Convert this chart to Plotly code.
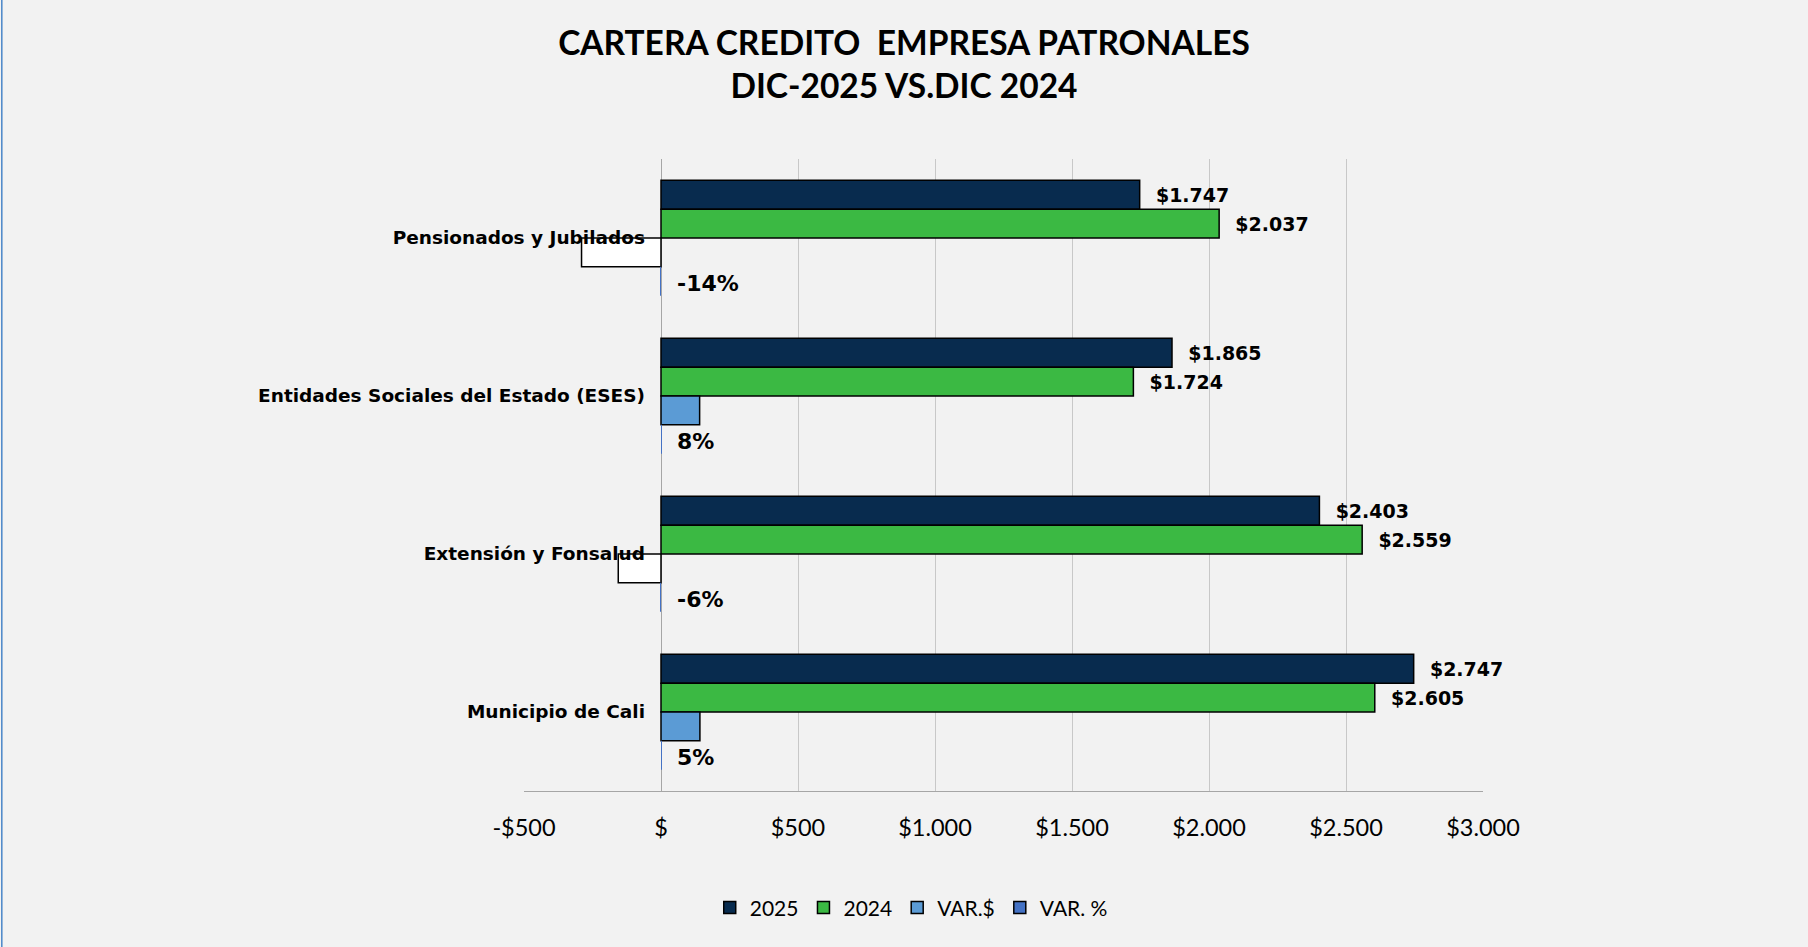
import plotly.graph_objects as go

categories = ["Pensionados y Jubilados", "Entidades Sociales del Estado (ESES)",
              "Extensión y Fonsalud", "Municipio de Cali"]
v2025 = [1747, 1865, 2403, 2747]
v2024 = [2037, 1724, 2559, 2605]
var_abs = [-290, 141, -156, 142]
var_pct = [-0.14, 0.08, -0.06, 0.05]
tick_vals = [-500, 0, 500, 1000, 1500, 2000, 2500, 3000]
tick_text = ["-$500", "$", "$500", "$1.000", "$1.500", "$2.000", "$2.500", "$3.000"]


def money(v):
    return "\u00a0\u00a0$" + f"{v:,.0f}".replace(",", ".")


BOLD = "DejaVu Sans"
LBL = "Lato"
fig = go.Figure()
outline = dict(color="black", width=1.5)
lblfont = dict(family=BOLD, size=19, color="black", weight="bold")
fig.add_trace(go.Bar(name="2025", y=categories, x=v2025, orientation="h", offsetgroup="a",
                     marker=dict(color="#082B4E", line=outline),
                     text=[money(v) for v in v2025], textposition="outside",
                     textfont=lblfont, cliponaxis=False))
fig.add_trace(go.Bar(name="2024", y=categories, x=v2024, orientation="h", offsetgroup="b",
                     marker=dict(color="#3BB943", line=outline),
                     text=[money(v) for v in v2024], textposition="outside",
                     textfont=lblfont, cliponaxis=False))
fig.add_trace(go.Bar(name="VAR.$", y=categories, x=var_abs, orientation="h", offsetgroup="c",
                     marker=dict(color=["white" if v < 0 else "#5B9BD5" for v in var_abs],
                                 line=outline), showlegend=False))
# legend swatch for VAR.$ (shares the same bar slot)
fig.add_trace(go.Bar(name="VAR.$", y=[categories[0]], x=[None], orientation="h", offsetgroup="c",
                     marker=dict(color="#5B9BD5", line=outline), showlegend=True,
                     hoverinfo="skip"))
fig.add_trace(go.Bar(name="VAR. %", y=categories, x=var_pct, orientation="h", offsetgroup="d",
                     marker=dict(color="#4472C4", line=dict(width=0)), showlegend=False))
fig.add_trace(go.Bar(name="VAR. %", y=[categories[0]], x=[None], orientation="h", offsetgroup="d",
                     marker=dict(color="#4472C4", line=outline), showlegend=True,
                     hoverinfo="skip"))

for c, p in zip(categories, var_pct):
    fig.add_annotation(x=0, y=c, xref="x", yref="y", text=f"{round(p*100):.0f}%",
                       showarrow=False, xanchor="left", yanchor="middle",
                       xshift=14, yshift=-45,
                       font=dict(family=BOLD, size=22, color="black", weight="bold"))

fig.update_layout(
    width=1808, height=947,
    paper_bgcolor="#F2F2F2", plot_bgcolor="#F2F2F2",
    margin=dict(l=0, r=0, t=159, b=156, autoexpand=False),
    barmode="group", bargap=0.27, bargroupgap=0,
    title=dict(text="<b>CARTERA CREDITO  EMPRESA PATRONALES<br>DIC-2025 VS.DIC 2024</b>",
               x=0.5, xanchor="center", y=0.942, yanchor="top",
               font=dict(family=LBL, size=33.5, color="black")),
    xaxis=dict(domain=[524/1808, 1483/1808], range=[-500, 3000], automargin=False,
               tickvals=tick_vals, ticktext=tick_text,
               showgrid=True, gridcolor="#C8C8C8", gridwidth=1,
               zeroline=True, zerolinecolor="#A6A6A6", zerolinewidth=1,
               showline=True, linecolor="#A6A6A6", linewidth=1,
               ticks="", ticklabelstandoff=16,
               tickfont=dict(family=LBL, size=23.5, color="black")),
    yaxis=dict(autorange="reversed", anchor="free", automargin=False,
               position=(524 + 500/3500*959)/1808,
               showgrid=False, showline=False, ticks="",
               ticklabelstandoff=16,
               tickfont=dict(family=BOLD, size=18.5, color="black", weight="bold")),
    legend=dict(orientation="h", x=0.504, xanchor="center", y=-0.185, yanchor="middle",
                font=dict(family=LBL, size=21, color="black"), traceorder="normal",
                itemwidth=30),
    showlegend=True,
)
fig.add_shape(type="line", xref="paper", yref="paper", x0=0.001, x1=0.001, y0=-1, y1=2,
              line=dict(color="#4A86C8", width=1.5))

fig.write_html("out.html", config={"displayModeBar": False},
               post_script="document.body.style.margin='0';")
